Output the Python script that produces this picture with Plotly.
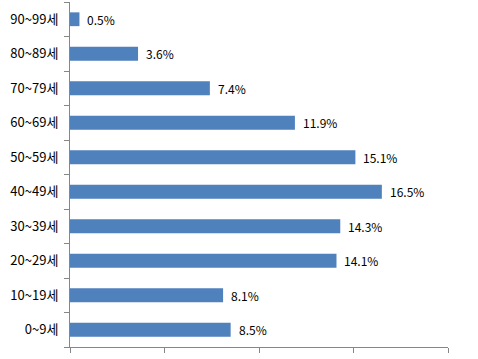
import plotly.graph_objects as go

categories = ["0~9세", "10~19세", "20~29세", "30~39세", "40~49세",
              "50~59세", "60~69세", "70~79세", "80~89세", "90~99세"]
values = [8.5, 8.1, 14.1, 14.3, 16.5, 15.1, 11.9, 7.4, 3.6, 0.5]
labels = [f"{v:.1f}%" for v in values]

fig = go.Figure(go.Bar(
    x=values, y=categories, orientation="h",
    marker=dict(color="#4F81BD", line=dict(width=0)),
    width=0.4,
    hoverinfo="skip",
))

for c, v, t in zip(categories, values, labels):
    fig.add_annotation(x=v, y=c, text=t, showarrow=False, xanchor="left",
                       xshift=6, yshift=0,
                       font=dict(family="Noto Sans CJK KR", size=12, color="#000000"))

fig.update_layout(
    width=478, height=359,
    margin=dict(l=70, r=30, t=2, b=12, autoexpand=False),
    paper_bgcolor="white", plot_bgcolor="white",
    showlegend=False,
    font=dict(family="Noto Sans CJK KR", size=13, color="#000000"),
)
fig.update_xaxes(range=[0, 20], tickvals=[0, 5, 10, 15, 20], showticklabels=False,
                 ticks="outside", ticklen=5, tickcolor="#868686",
                 showline=True, linecolor="#868686", linewidth=1,
                 showgrid=False, zeroline=False, automargin=False)
fig.update_yaxes(categoryorder="array", categoryarray=categories,
                 tickson="boundaries", ticks="outside", ticklen=5, tickcolor="#868686",
                 showline=True, linecolor="#868686", linewidth=1,
                 showgrid=False, ticklabelstandoff=8, automargin=False,
                 tickfont=dict(family="Noto Sans CJK KR", size=13, color="#000000"))

fig.write_html("out.html", config={"displayModeBar": False},
               post_script="document.body.style.margin='0';")
